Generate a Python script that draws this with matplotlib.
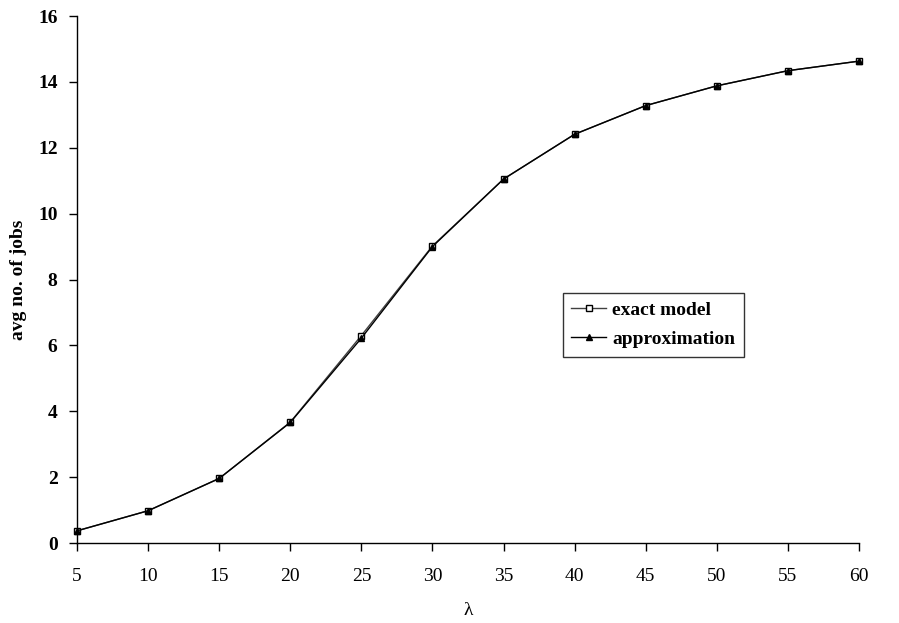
import matplotlib
matplotlib.use("Agg")
import matplotlib.pyplot as plt

lam = [5, 10, 15, 20, 25, 30, 35, 40, 45, 50, 55, 60]
exact_model = [0.37, 0.98, 1.96, 3.67, 6.30, 9.02, 11.05, 12.41, 13.28, 13.88, 14.34, 14.63]
approximation = [0.37, 0.98, 1.96, 3.66, 6.22, 9.00, 11.05, 12.41, 13.28, 13.88, 14.34, 14.63]

plt.rcParams["font.family"] = ["Liberation Serif", "DejaVu Serif"]

fig = plt.figure(figsize=(8.99, 6.23), dpi=100)
ax = fig.add_axes([0.0857, 0.1284, 0.8698, 0.8459])

ax.plot(lam, exact_model, color="#404040", linewidth=1.0, marker="s", markersize=5,
        markerfacecolor="white", markeredgecolor="black", markeredgewidth=1.0,
        label="exact model", clip_on=False, zorder=3)
ax.plot(lam, approximation, color="black", linewidth=1.0, marker="^", markersize=5,
        markerfacecolor="black", markeredgecolor="black",
        label="approximation", clip_on=False, zorder=4)

ax.set_xlim(5, 60)
ax.set_ylim(0, 16)
ax.set_xticks(lam)
ax.set_yticks(range(0, 17, 2))
for sp in ("top", "right"):
    ax.spines[sp].set_visible(False)
for sp in ("left", "bottom"):
    ax.spines[sp].set_linewidth(1.0)
ax.tick_params(direction="out", length=6, width=1.0, labelsize=14)
ax.tick_params(axis="x", pad=12)
ax.tick_params(axis="y", pad=8)
for lb in ax.get_yticklabels():
    lb.set_fontweight("bold")

ax.set_xlabel("\u03bb", fontsize=14, labelpad=12)
ax.set_ylabel("avg no. of jobs", fontsize=14, fontweight="bold", labelpad=8)

leg = ax.legend(loc="lower left", bbox_to_anchor=(0.621, 0.353), fontsize=14,
                frameon=True, fancybox=False, edgecolor="black", handlelength=1.8,
                borderpad=0.45, labelspacing=0.6, handletextpad=0.3,
                borderaxespad=0)
leg.get_frame().set_linewidth(1.0)
for t in leg.get_texts():
    t.set_fontweight("bold")

fig.savefig("out.png", dpi=100)
